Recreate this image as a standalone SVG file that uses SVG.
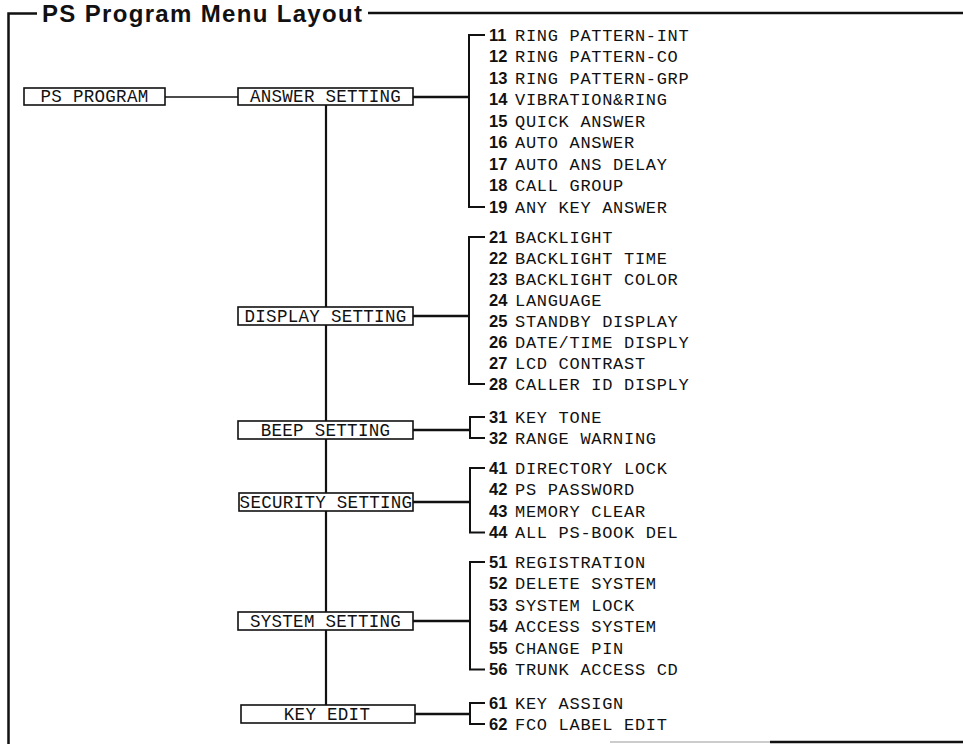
<svg xmlns="http://www.w3.org/2000/svg" width="963" height="744" viewBox="0 0 963 744">
<style>
.frame{stroke:#111;stroke-width:2.5;fill:none}
.box{fill:#fff;stroke:#111;stroke-width:1.6}
.bt{font-family:"Liberation Mono","DejaVu Sans Mono",monospace;font-size:17.5px;letter-spacing:0.3px;fill:#111;text-anchor:middle}
.n{font-family:"Liberation Sans",Arial,sans-serif;font-weight:bold;font-size:16.5px;fill:#111}
.m{font-family:"Liberation Mono","DejaVu Sans Mono",monospace;font-size:17px;letter-spacing:0.7px;fill:#111}
.thin{stroke:#111;stroke-width:1.6;fill:none}
.main{stroke:#111;stroke-width:2.2;fill:none}
.feed{stroke:#111;stroke-width:2.6;fill:none}
.br{stroke:#111;stroke-width:2;fill:none}
.title{font-family:"Liberation Sans",Arial,sans-serif;font-weight:bold;font-size:24px;fill:#111}
</style>
<rect width="963" height="744" fill="#fff"/>
<g id="frame">
<path class="frame" d="M37,13.5 H8.5 V744"/>
<path class="frame" d="M368,13 H963"/>
<line x1="610" y1="742" x2="770" y2="742" stroke="#999" stroke-width="1"/>
<line x1="770" y1="742" x2="963" y2="742" stroke="#111" stroke-width="2.5"/>
<text class="title" x="42" y="22" textLength="320" lengthAdjust="spacing">PS Program Menu Layout</text>
</g>
<g id="connectors">
<line class="thin" x1="165" y1="97" x2="238" y2="97"/>
<line class="main" x1="326" y1="105" x2="326" y2="705"/>
<path class="feed" d="M413,97 H469"/>
<path class="br" d="M485,35 H469 V207 H485"/>
<path class="feed" d="M413,316 H469"/>
<path class="br" d="M485,237 H469 V384 H485"/>
<path class="feed" d="M413,430 H470"/>
<path class="br" d="M485,417 H470 V438 H485"/>
<path class="feed" d="M413,502 H470"/>
<path class="br" d="M485,468 H470 V532.5 H485"/>
<path class="feed" d="M413,621 H470"/>
<path class="br" d="M485,562 H470 V669.5 H485"/>
<path class="feed" d="M415,714 H470"/>
<path class="br" d="M485,703 H470 V724 H485"/>
</g>
<g id="ps-program">
<rect class="box" x="24" y="88" width="141" height="17"/>
<text class="bt" x="94.5" y="102">PS PROGRAM</text>
</g>
<g id="answer-setting">
<rect class="box" x="238" y="88" width="175" height="17"/>
<text class="bt" x="325.5" y="102">ANSWER SETTING</text>
</g>
<g id="display-setting">
<rect class="box" x="238" y="307" width="175" height="18"/>
<text class="bt" x="325.5" y="321.5">DISPLAY SETTING</text>
</g>
<g id="beep-setting">
<rect class="box" x="238" y="421" width="175" height="18"/>
<text class="bt" x="325.5" y="435.5">BEEP SETTING</text>
</g>
<g id="security-setting">
<rect class="box" x="239" y="493" width="174" height="18"/>
<text class="bt" x="326" y="507.5">SECURITY SETTING</text>
</g>
<g id="system-setting">
<rect class="box" x="238" y="612" width="175" height="18"/>
<text class="bt" x="325.5" y="626.5">SYSTEM SETTING</text>
</g>
<g id="key-edit">
<rect class="box" x="241" y="705" width="174" height="18"/>
<text class="bt" x="327" y="719.5">KEY EDIT</text>
</g>
<g id="answer-items">
<text y="40.5"><tspan class="n" x="489">11</tspan><tspan class="m" x="515">RING PATTERN-INT</tspan></text>
<text y="62"><tspan class="n" x="489">12</tspan><tspan class="m" x="515">RING PATTERN-CO</tspan></text>
<text y="83.5"><tspan class="n" x="489">13</tspan><tspan class="m" x="515">RING PATTERN-GRP</tspan></text>
<text y="105"><tspan class="n" x="489">14</tspan><tspan class="m" x="515">VIBRATION&amp;RING</tspan></text>
<text y="126.5"><tspan class="n" x="489">15</tspan><tspan class="m" x="515">QUICK ANSWER</tspan></text>
<text y="148"><tspan class="n" x="489">16</tspan><tspan class="m" x="515">AUTO ANSWER</tspan></text>
<text y="169.5"><tspan class="n" x="489">17</tspan><tspan class="m" x="515">AUTO ANS DELAY</tspan></text>
<text y="191"><tspan class="n" x="489">18</tspan><tspan class="m" x="515">CALL GROUP</tspan></text>
<text y="212.5"><tspan class="n" x="489">19</tspan><tspan class="m" x="515">ANY KEY ANSWER</tspan></text>
</g>
<g id="display-items">
<text y="242.5"><tspan class="n" x="489">21</tspan><tspan class="m" x="515">BACKLIGHT</tspan></text>
<text y="263.5"><tspan class="n" x="489">22</tspan><tspan class="m" x="515">BACKLIGHT TIME</tspan></text>
<text y="284.5"><tspan class="n" x="489">23</tspan><tspan class="m" x="515">BACKLIGHT COLOR</tspan></text>
<text y="305.5"><tspan class="n" x="489">24</tspan><tspan class="m" x="515">LANGUAGE</tspan></text>
<text y="326.5"><tspan class="n" x="489">25</tspan><tspan class="m" x="515">STANDBY DISPLAY</tspan></text>
<text y="347.5"><tspan class="n" x="489">26</tspan><tspan class="m" x="515">DATE/TIME DISPLY</tspan></text>
<text y="368.5"><tspan class="n" x="489">27</tspan><tspan class="m" x="515">LCD CONTRAST</tspan></text>
<text y="389.5"><tspan class="n" x="489">28</tspan><tspan class="m" x="515">CALLER ID DISPLY</tspan></text>
</g>
<g id="beep-items">
<text y="422.5"><tspan class="n" x="489">31</tspan><tspan class="m" x="515">KEY TONE</tspan></text>
<text y="443.5"><tspan class="n" x="489">32</tspan><tspan class="m" x="515">RANGE WARNING</tspan></text>
</g>
<g id="security-items">
<text y="473.5"><tspan class="n" x="489">41</tspan><tspan class="m" x="515">DIRECTORY LOCK</tspan></text>
<text y="495"><tspan class="n" x="489">42</tspan><tspan class="m" x="515">PS PASSWORD</tspan></text>
<text y="516.5"><tspan class="n" x="489">43</tspan><tspan class="m" x="515">MEMORY CLEAR</tspan></text>
<text y="538"><tspan class="n" x="489">44</tspan><tspan class="m" x="515">ALL PS-BOOK DEL</tspan></text>
</g>
<g id="system-items">
<text y="567.5"><tspan class="n" x="489">51</tspan><tspan class="m" x="515">REGISTRATION</tspan></text>
<text y="589"><tspan class="n" x="489">52</tspan><tspan class="m" x="515">DELETE SYSTEM</tspan></text>
<text y="610.5"><tspan class="n" x="489">53</tspan><tspan class="m" x="515">SYSTEM LOCK</tspan></text>
<text y="632"><tspan class="n" x="489">54</tspan><tspan class="m" x="515">ACCESS SYSTEM</tspan></text>
<text y="653.5"><tspan class="n" x="489">55</tspan><tspan class="m" x="515">CHANGE PIN</tspan></text>
<text y="675"><tspan class="n" x="489">56</tspan><tspan class="m" x="515">TRUNK ACCESS CD</tspan></text>
</g>
<g id="key-edit-items">
<text y="708.5"><tspan class="n" x="489">61</tspan><tspan class="m" x="515">KEY ASSIGN</tspan></text>
<text y="729.5"><tspan class="n" x="489">62</tspan><tspan class="m" x="515">FCO LABEL EDIT</tspan></text>
</g>
</svg>
